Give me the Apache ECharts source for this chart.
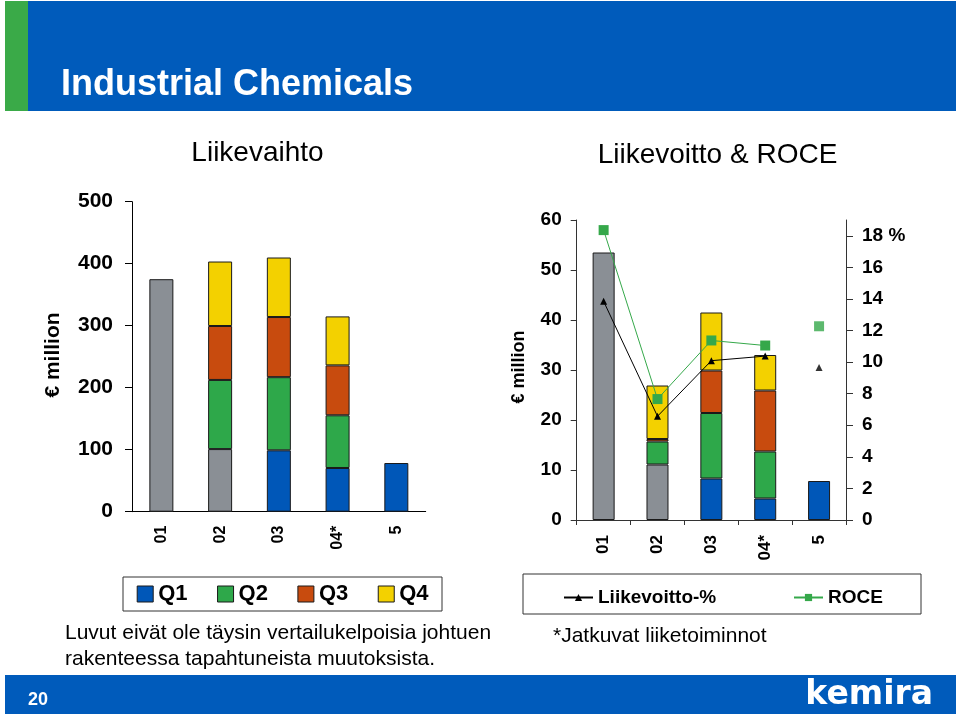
<!DOCTYPE html>
<html>
<head>
<meta charset="utf-8">
<script src="https://cdn.jsdelivr.net/npm/echarts@6/dist/echarts.min.js"></script>
<style>
html,body{margin:0;padding:0;background:#fff;}
#c{width:960px;height:716px;}
</style>
</head>
<body>
<div id="c"></div>
<script>
// ---- data ----
const categories = ['01', '02', '03', '04*', '5'];
// Liikevaihto (€ million)
const salesOther = [375, 101, null, null, null];
const salesQ1 = [null, null, 99, 70.5, 78.5];
const salesQ2 = [null, 111.5, 118, 85, null];
const salesQ3 = [null, 87, 97, 80.5, null];
const salesQ4 = [null, 104, 96, 79, null];
// Liikevoitto (€ million)
const ebitOther = [53.5, 11.1, null, null, null];
const ebitQ1 = [null, null, 8.3, 4.3, 7.8];
const ebitQ2 = [null, 4.6, 13.1, 9.4, null];
const ebitQ3 = [null, 0.5, 8.5, 12.2, null];
const ebitQ4 = [null, 10.7, 11.6, 7.1, null];
// percentages
const marginPct = [13.85, 6.57, 10.09, 10.38, 9.66];
const rocePct = [18.36, 7.66, 11.37, 11.05, 12.27];
const connected = [true, true, true, true, false];
// tick labels
const salesTicks = [0, 100, 200, 300, 400, 500];
const ebitTicks = [0, 10, 20, 30, 40, 50, 60];
const pctTicks = [0, 2, 4, 6, 8, 10, 12, 14, 16, 18];

const FONT = '"Liberation Sans", Arial, Helvetica, sans-serif';
const C = {
  other: '#8A8F95', q1: '#0057B8', q2: '#2EA84A', q3: '#C84B0E', q4: '#F3D100',
  blue: '#005BBB', greenStrip: '#3AAA48', roce: '#35A84A'
};

const chart = echarts.init(document.getElementById('c'), null, {renderer: 'canvas'});

function barSeries(name, data, color, xi, yi, stack, w) {
  return {
    name: name, type: 'bar', stack: stack, data: data,
    xAxisIndex: xi, yAxisIndex: yi, barWidth: w,
    itemStyle: {color: color, borderColor: '#1a1a1a', borderWidth: 1},
    emphasis: {disabled: true}, z: 2
  };
}

const lineMain = (arr) => arr.map((v, i) => connected[i] ? v : null);
const lineLoose = (arr) => arr.map((v, i) => connected[i] ? null : v);

const option = {
  animation: false,
  textStyle: {fontFamily: FONT},
  grid: [
    {left: 132, top: 201.7, width: 293.7, height: 310},
    {left: 576.7, top: 220, width: 269.3, height: 300}
  ],
  xAxis: [
    {
      type: 'category', gridIndex: 0, data: categories,
      axisLine: {lineStyle: {color: '#000', width: 1}},
      axisTick: {show: false},
      axisLabel: {rotate: 90, margin: 14, color: '#000', fontWeight: 'bold', fontSize: 16, fontFamily: FONT}
    },
    {
      type: 'category', gridIndex: 1, data: categories,
      axisLine: {lineStyle: {color: '#333', width: 1}},
      axisTick: {show: true, length: 5, interval: 0, lineStyle: {color: '#333'}},
      axisLabel: {rotate: 90, margin: 15, color: '#000', fontWeight: 'bold', fontSize: 17, fontFamily: FONT}
    }
  ],
  yAxis: [
    {
      type: 'value', gridIndex: 0, min: 0, max: 500, interval: 100,
      splitLine: {show: false},
      axisLine: {show: true, lineStyle: {color: '#000'}},
      axisTick: {show: true, length: 7, lineStyle: {color: '#000'}},
      axisLabel: {margin: 19, color: '#000', fontWeight: 'bold', fontSize: 21, fontFamily: FONT,
        customValues: salesTicks}
    },
    {
      type: 'value', gridIndex: 1, min: 0, max: 60, interval: 10,
      splitLine: {show: false},
      axisLine: {show: true, lineStyle: {color: '#333'}},
      axisTick: {show: true, length: 6, lineStyle: {color: '#333'}},
      axisLabel: {margin: 15, color: '#000', fontWeight: 'bold', fontSize: 19, fontFamily: FONT,
        customValues: ebitTicks}
    },
    {
      type: 'value', gridIndex: 1, position: 'right', min: 0, max: 19, interval: 2,
      splitLine: {show: false},
      axisLine: {show: true, lineStyle: {color: '#333'}},
      axisTick: {show: true, length: 7, lineStyle: {color: '#333'}, customValues: pctTicks},
      axisLabel: {margin: 16, color: '#000', fontWeight: 'bold', fontSize: 19, fontFamily: FONT,
        customValues: pctTicks,
        formatter: (v) => v === 18 ? '18 %' : String(v)}
    }
  ],
  legend: [
    {
      data: ['Q1', 'Q2', 'Q3', 'Q4'], left: 136.7, top: 583, padding: 0,
      itemWidth: 16, itemHeight: 16, itemGap: 29.5, icon: 'rect',
      itemStyle: {borderColor: '#1a1a1a', borderWidth: 1},
      textStyle: {fontSize: 22, fontWeight: 'bold', color: '#000', fontFamily: FONT},
      selectedMode: false
    },
    {
      data: ['Liikevoitto-%'], left: 563, top: 588, padding: 0,
      itemWidth: 29, itemHeight: 9,
      textStyle: {fontSize: 19, fontWeight: 'bold', color: '#000', fontFamily: FONT},
      selectedMode: false
    },
    {
      data: ['ROCE'], left: 793, top: 588, padding: 0,
      itemWidth: 29, itemHeight: 9,
      textStyle: {fontSize: 19, fontWeight: 'bold', color: '#000', fontFamily: FONT},
      selectedMode: false
    }
  ],
  series: [
    barSeries('Muu', salesOther, C.other, 0, 0, 'sales', 24),
    barSeries('Q1', salesQ1, C.q1, 0, 0, 'sales', 24),
    barSeries('Q2', salesQ2, C.q2, 0, 0, 'sales', 24),
    barSeries('Q3', salesQ3, C.q3, 0, 0, 'sales', 24),
    barSeries('Q4', salesQ4, C.q4, 0, 0, 'sales', 24),
    barSeries('Muu', ebitOther, C.other, 1, 1, 'ebit', 22),
    barSeries('Q1', ebitQ1, C.q1, 1, 1, 'ebit', 22),
    barSeries('Q2', ebitQ2, C.q2, 1, 1, 'ebit', 22),
    barSeries('Q3', ebitQ3, C.q3, 1, 1, 'ebit', 22),
    barSeries('Q4', ebitQ4, C.q4, 1, 1, 'ebit', 22),
    {
      name: 'ROCE', type: 'line', xAxisIndex: 1, yAxisIndex: 2,
      data: lineMain(rocePct), connectNulls: false,
      symbol: 'rect', symbolSize: 10, showAllSymbol: true,
      lineStyle: {color: C.roce, width: 1}, itemStyle: {color: C.roce},
      emphasis: {disabled: true}, z: 5
    },
    {
      name: 'ROCE', type: 'scatter', xAxisIndex: 1, yAxisIndex: 2,
      data: lineLoose(rocePct), symbol: 'rect', symbolSize: 10,
      itemStyle: {color: C.roce}, emphasis: {disabled: true}, z: 5
    },
    {
      name: 'Liikevoitto-%', type: 'line', xAxisIndex: 1, yAxisIndex: 2,
      data: lineMain(marginPct), connectNulls: false,
      symbol: 'triangle', symbolSize: 7, showAllSymbol: true,
      lineStyle: {color: '#000', width: 1}, itemStyle: {color: '#000'},
      emphasis: {disabled: true}, z: 6
    },
    {
      name: 'Liikevoitto-%', type: 'scatter', xAxisIndex: 1, yAxisIndex: 2,
      data: lineLoose(marginPct), symbol: 'triangle', symbolSize: 7,
      itemStyle: {color: '#000'}, emphasis: {disabled: true}, z: 6
    }
  ],
  graphic: [
    // header
    {type: 'rect', shape: {x: 5, y: 1, width: 951, height: 110}, style: {fill: C.blue}, silent: true},
    {type: 'rect', shape: {x: 5, y: 1, width: 23, height: 110}, style: {fill: C.greenStrip}, silent: true},
    {type: 'text', x: 61, y: 85, style: {text: 'Industrial Chemicals', fill: '#fff', font: 'bold 36px ' + FONT, textAlign: 'left', textVerticalAlign: 'middle'}},
    // chart titles
    {type: 'text', x: 257.5, y: 153, style: {text: 'Liikevaihto', fill: '#000', font: '28px ' + FONT, textAlign: 'center', textVerticalAlign: 'middle'}},
    {type: 'text', x: 717.5, y: 155, style: {text: 'Liikevoitto & ROCE', fill: '#000', font: '28px ' + FONT, textAlign: 'center', textVerticalAlign: 'middle'}},
    // axis names
    {type: 'text', x: 53, y: 355, rotation: Math.PI / 2, style: {text: '€ million', fill: '#000', font: 'bold 21px ' + FONT, textAlign: 'center', textVerticalAlign: 'middle'}},
    {type: 'text', x: 519, y: 367, rotation: Math.PI / 2, style: {text: '€ million', fill: '#000', font: 'bold 18px ' + FONT, textAlign: 'center', textVerticalAlign: 'middle'}},
    // legend frames
    {type: 'rect', shape: {x: 123, y: 577, width: 319, height: 34}, style: {fill: 'none', stroke: '#333', lineWidth: 1}, silent: true},
    {type: 'rect', shape: {x: 523, y: 574, width: 398, height: 40}, style: {fill: 'none', stroke: '#333', lineWidth: 1}, silent: true},
    // notes
    {type: 'text', x: 65, y: 633, style: {text: 'Luvut eivät ole täysin vertailukelpoisia johtuen', fill: '#000', font: '21px ' + FONT, textAlign: 'left', textVerticalAlign: 'middle'}},
    {type: 'text', x: 65, y: 659, style: {text: 'rakenteessa tapahtuneista muutoksista.', fill: '#000', font: '21px ' + FONT, textAlign: 'left', textVerticalAlign: 'middle'}},
    {type: 'text', x: 553, y: 636, style: {text: '*Jatkuvat liiketoiminnot', fill: '#000', font: '21px ' + FONT, textAlign: 'left', textVerticalAlign: 'middle'}},
    // footer
    {type: 'rect', shape: {x: 5, y: 675, width: 951, height: 39}, style: {fill: C.blue}, silent: true},
    {type: 'text', x: 28, y: 700, style: {text: '20', fill: '#fff', font: 'bold 18px ' + FONT, textAlign: 'left', textVerticalAlign: 'middle'}},
    {type: 'text', x: 933, y: 695, style: {text: 'kemira', fill: '#fff', font: 'bold 33px "DejaVu Sans", sans-serif', textAlign: 'right', textVerticalAlign: 'middle'}}
  ]
};
chart.setOption(option);
</script>
</body>
</html>
